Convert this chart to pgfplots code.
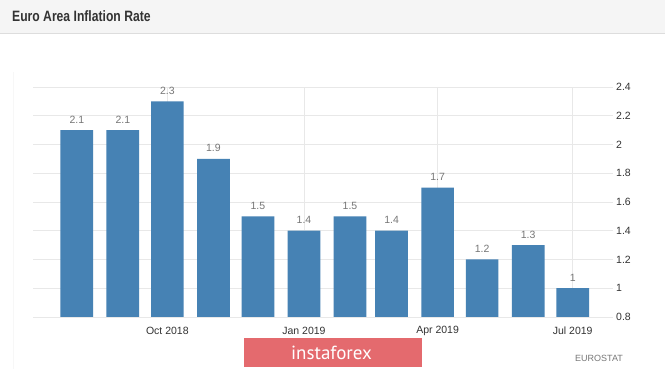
\documentclass[border=0pt]{standalone}
\usepackage{pgfplots}
\pgfplotsset{compat=1.18}
\usepackage{fontspec}
\setmainfont{Liberation Sans}
\newfontfamily\ptsans{PT Sans}
\definecolor{barblue}{RGB}{70,130,180}
\definecolor{gridgray}{RGB}{232,232,232}
\definecolor{headbg}{RGB}{245,245,245}
\definecolor{headline}{RGB}{221,221,221}
\definecolor{ticktext}{RGB}{51,51,51}
\definecolor{valtext}{RGB}{119,119,119}
\definecolor{instared}{RGB}{228,106,110}
\pgfplotsset{/pgf/number format/assume math mode=true}
\begin{document}
\begin{tikzpicture}
\useasboundingbox (0,0) rectangle (665bp,369bp);
\fill[white] (0,0) rectangle (665bp,369bp);
% header band
\fill[headbg] (0,335.5bp) rectangle (665bp,369bp);
\draw[headline, line width=1bp] (0,335.5bp) -- (665bp,335.5bp);
\node[anchor=west, inner sep=0, text=ticktext] at (12bp,352.5bp)
  {\scalebox{0.81}[1]{\fontsize{15bp}{18bp}\selectfont\bfseries Euro Area Inflation Rate}};
% faint panel border
\draw[gray!6, line width=0.8bp] (13bp,0) -- (13bp,297bp);
\begin{axis}[
  at={(33bp,52bp)}, anchor=south west,
  scale only axis, width=579.5bp, height=230bp,
  xmin=-29.5, xmax=360.8, ymin=0.8, ymax=2.4,
  enlargelimits=false,
  ybar, bar width=32.7bp,
  axis line style={draw=none},
  tick style={draw=none},
  ytick={0.8,1,1.2,1.4,1.6,1.8,2,2.2,2.4},
  yticklabel pos=right,
  yticklabel style={anchor=west, inner sep=0, xshift=3.5bp, font=\fontsize{10.5bp}{12bp}\selectfont, text=ticktext},
  xtick={61,153,243,334},
  xticklabels={Oct 2018,Jan 2019,Apr 2019,Jul 2019},
  xticklabel style={anchor=center, inner sep=0, yshift=-9.7bp, font=\fontsize{10.5bp}{12bp}\selectfont, text=ticktext},
  ymajorgrids, xmajorgrids,
  grid style={gridgray, line width=0.7bp},
  nodes near coords,
  nodes near coords style={anchor=center, inner sep=0, yshift=10.5bp, font=\fontsize{10.5bp}{12bp}\selectfont, text=valtext},
  clip=false,
]
\addplot[fill=barblue, draw=none] coordinates {
  (0,2.1) (31,2.1) (61,2.3) (92,1.9) (122,1.5) (153,1.4)
  (184,1.5) (212,1.4) (243,1.7) (273,1.2) (304,1.3) (334,1.0)
};
\end{axis}
% watermark
\fill[instared] (244bp,2bp) rectangle (422bp,31bp);
\node[text=white, inner sep=0] at (331.5bp,16.5bp) {\ptsans\fontsize{19bp}{22bp}\selectfont instaforex};
\node[text=valtext, inner sep=0] at (599bp,11bp) {\fontsize{9bp}{11bp}\selectfont EUROSTAT};
\end{tikzpicture}
\end{document}
